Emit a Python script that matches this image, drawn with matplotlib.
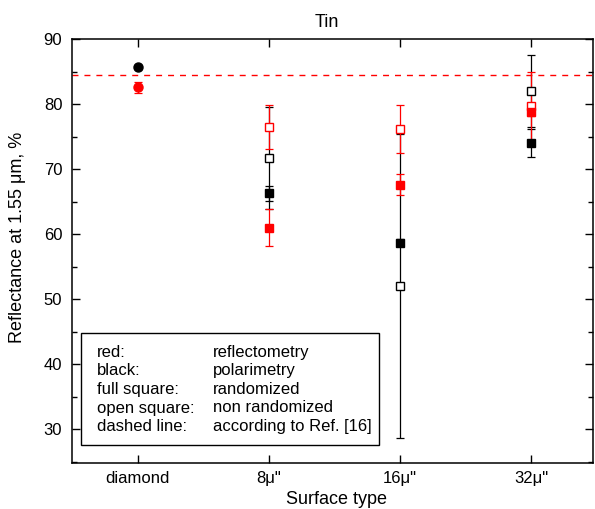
import numpy as np
import matplotlib
matplotlib.use('Agg')
import matplotlib.pyplot as plt
from matplotlib.patches import Rectangle
from matplotlib.ticker import MultipleLocator

plt.rcParams['font.family'] = ['Liberation Sans', 'DejaVu Sans']

# -- Data --
categories = ['diamond', '8\u03bc"', '16\u03bc"', '32\u03bc"']
xPos = np.arange(1, len(categories) + 1)

# diamond (circles)
blackDiamond = 85.7
blackDiamondErr = 0.0
redDiamond = 82.6
redDiamondErr = 0.85

# surfaces 8, 16, 32 micro-inch (squares)
xSurf = xPos[1:]
blackFull = [66.3, 58.7, 74.0]
blackFullErr = [1.15, 0.5, 2.2]
blackOpen = [71.7, 52.0, 82.0]
blackOpenErr = [7.8, 23.4, 5.5]
redFull = [61.0, 67.6, 78.7]
redFullErr = [2.9, 1.65, 0.5]
redOpen = [76.5, 76.15, 79.7]
redOpenErr = [3.4, 3.7, 5.3]

refLevel = 84.5

legendKeys = ['red:', 'black:', 'full square:', 'open square:', 'dashed line:']
legendVals = ['reflectometry', 'polarimetry', 'randomized', 'non randomized',
              'according to Ref. [16]']

# -- Figure --
fig = plt.figure(figsize=(5.95, 5.09), dpi=100)
ax = fig.add_axes([72/595, 1-463/509, (593-72)/595, (463-39)/509])

errKw = dict(fmt='none', capsize=3.2, elinewidth=0.9, capthick=0.9, zorder=2)
ax.errorbar([xPos[0]], [blackDiamond], yerr=[blackDiamondErr], ecolor='k', **errKw)
ax.errorbar(xSurf, blackOpen, yerr=blackOpenErr, ecolor='k', **errKw)
ax.errorbar(xSurf, blackFull, yerr=blackFullErr, ecolor='k', **errKw)
ax.errorbar([xPos[0]], [redDiamond], yerr=[redDiamondErr], ecolor='red', **errKw)
ax.errorbar(xSurf, redOpen, yerr=redOpenErr, ecolor='red', **errKw)
ax.errorbar(xSurf, redFull, yerr=redFullErr, ecolor='red', **errKw)

ms = 6
ax.plot([xPos[0]], [blackDiamond], 'o', color='k', ms=6.5, zorder=3)
ax.plot([xPos[0]], [redDiamond], 'o', color='red', ms=6.5, zorder=3)
ax.plot(xSurf, redOpen, 's', mfc='white', mec='red', mew=1, ms=ms, ls='none', zorder=3)
ax.plot(xSurf, redFull, 's', color='red', ms=ms, ls='none', zorder=3)
ax.plot(xSurf, blackOpen, 's', mfc='white', mec='k', mew=1, ms=ms, ls='none', zorder=3)
ax.plot(xSurf, blackFull, 's', color='k', ms=ms, ls='none', zorder=3)

ax.axhline(refLevel, color='red', lw=1, dashes=(4.3, 4.3), zorder=1)

ax.set_xlim(0.5, 4.47)
ax.set_ylim(24.8, 90)
ax.set_xticks(xPos)
ax.set_xticklabels(categories, fontsize=12)
ax.yaxis.set_major_locator(MultipleLocator(10))
ax.yaxis.set_minor_locator(MultipleLocator(5))
ax.tick_params(axis='both', which='major', direction='in', length=6, width=1,
               top=True, right=True, labelsize=12)
ax.tick_params(axis='y', which='major', pad=7)
ax.tick_params(axis='x', which='major', pad=6)
ax.tick_params(axis='y', which='minor', direction='in', length=3.5, width=1,
               left=True, right=True)
for sp in ax.spines.values():
    sp.set_linewidth(1.1)

fig.text(327/595, 1-26.7/509, 'Tin', ha='center', va='baseline', fontsize=13)
fig.text(18/595, 1-237/509, 'Reflectance at 1.55 \u03bcm, %', rotation=90,
         ha='center', va='center', fontsize=13)
fig.text(336/595, 1-500/509, 'Surface type', ha='center', va='center', fontsize=13)

# -- Text box legend --
fig.patches.append(Rectangle((81/595, 1-445/509), (379-81)/595, (445-333)/509,
                             transform=fig.transFigure, fill=True, facecolor='white',
                             edgecolor='k', lw=1, zorder=5))
baselines = [356.7, 375.3, 393.9, 412.5, 431.1]
for key, val, yb in zip(legendKeys, legendVals, baselines):
    fig.text(96.7/595, 1-yb/509, key, ha='left', va='baseline', fontsize=12, zorder=6)
    fig.text(213/595, 1-yb/509, val, ha='left', va='baseline', fontsize=12, zorder=6)

fig.savefig('out.png', dpi=100)
